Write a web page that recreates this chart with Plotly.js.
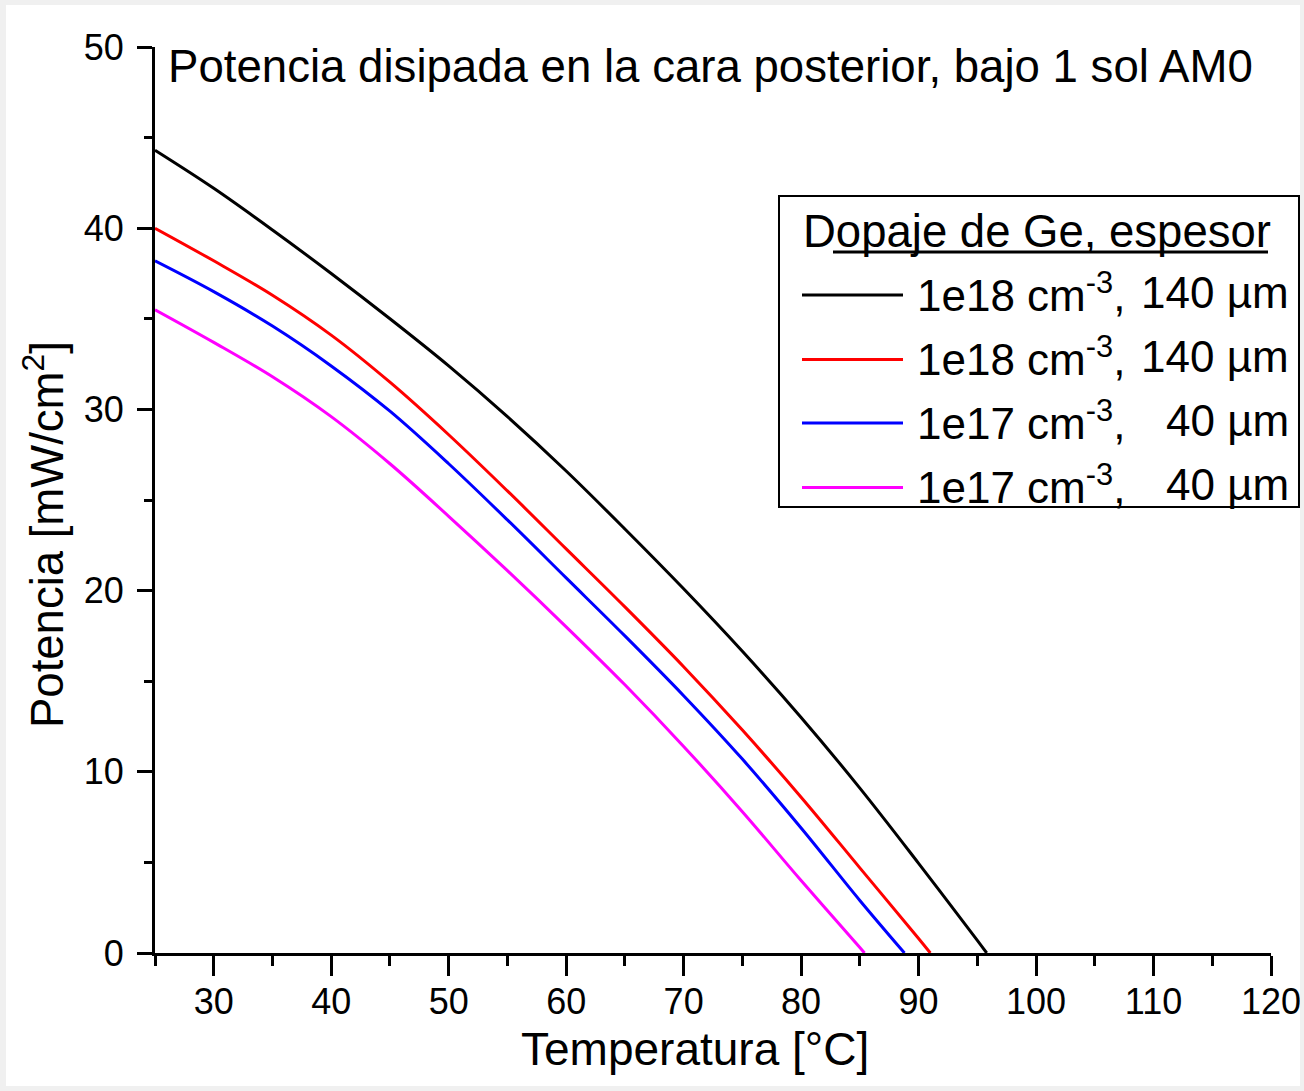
<!DOCTYPE html>
<html>
<head>
<meta charset="utf-8">
<script src="https://cdn.plot.ly/plotly-3.0.1.min.js"></script>
<style>
  html, body { margin: 0; padding: 0; background: #f0f0f0; }
  #chart { position: absolute; left: 6px; top: 5px; width: 1294px; height: 1081px; background: #ffffff; }
</style>
</head>
<body>
<div id="chart"></div>
<script>
// ---- Data ----
const seriesNames = [
  "1e18 cm-3, 140 µm (a)",
  "1e18 cm-3, 140 µm (b)",
  "1e17 cm-3, 40 µm (a)",
  "1e17 cm-3, 40 µm (b)"
];
const seriesColors = ["#000000", "#ff0000", "#0000ff", "#ff00ff"];

const tempBlack = [25, 30, 35, 40, 45, 50, 55, 60, 65, 70, 75, 80, 85, 90, 95, 95.8];
const powBlack  = [44.3, 42.2, 39.9, 37.5, 35.0, 32.4, 29.6, 26.6, 23.4, 20.1, 16.65, 13.0, 9.1, 4.95, 0.7, 0];

const tempRed = [25, 30, 35, 40, 45, 50, 55, 60, 65, 70, 75, 80, 85, 90, 91];
const powRed  = [40.0, 38.2, 36.3, 34.1, 31.5, 28.6, 25.5, 22.3, 19.1, 15.8, 12.3, 8.6, 4.7, 0.8, 0];

const tempBlue = [25, 30, 35, 40, 45, 50, 55, 60, 65, 70, 75, 80, 85, 88.8];
const powBlue  = [38.2, 36.5, 34.6, 32.4, 29.9, 27.0, 23.9, 20.7, 17.5, 14.2, 10.7, 6.9, 2.9, 0];

const tempMagenta = [25, 30, 35, 40, 45, 50, 55, 60, 65, 70, 75, 80, 85, 85.4];
const powMagenta  = [35.5, 33.7, 31.8, 29.6, 27.0, 24.1, 21.1, 18.0, 14.8, 11.4, 7.8, 4.0, 0.3, 0];

const chartTitle = "Potencia disipada en la cara posterior, bajo 1 sol AM0";
const xTitle = "Temperatura [°C]";
const yTitle = "Potencia [mW/cm<sup>2</sup>]";
const legendTitle = "Dopaje de Ge, espesor";
const legendLeftText = ["1e18 cm<sup>-3</sup>,", "1e18 cm<sup>-3</sup>,", "1e17 cm<sup>-3</sup>,", "1e17 cm<sup>-3</sup>,"];
const legendRightText = ["140 µm", "140 µm", "40 µm", "40 µm"];

// ---- Geometry helpers (page pixels -> paper coords) ----
const OX = 6, OY = 5;            // div offset on page
const PL = 155, PR = 1271, PT = 47, PB = 953; // plot area on page
const px = x => (x - PL) / (PR - PL);
const py = y => (PB - y) / (PB - PT);

const FONT = "Liberation Sans, Arial, sans-serif";

const xs = [tempBlack, tempRed, tempBlue, tempMagenta];
const ys = [powBlack, powRed, powBlue, powMagenta];

const traces = xs.map((x, i) => ({
  type: "scatter",
  mode: "lines",
  x: x,
  y: ys[i],
  name: seriesNames[i],
  showlegend: false,
  line: { color: seriesColors[i], width: 3, shape: "spline", smoothing: 1 },
  hoverinfo: "x+y"
}));

const shapes = [];
const annotations = [];

// Legend box
shapes.push({ type: "rect", xref: "paper", yref: "paper",
  x0: px(779), x1: px(1299), y0: py(507), y1: py(196),
  line: { color: "#000000", width: 2 }, fillcolor: "#ffffff", layer: "above" });
// Legend title underline
shapes.push({ type: "line", xref: "paper", yref: "paper",
  x0: px(833), x1: px(1268), y0: py(252), y1: py(252),
  line: { color: "#000000", width: 3 }, layer: "above" });
annotations.push({ xref: "paper", yref: "paper", x: px(801), y: py(231),
  xanchor: "left", yanchor: "middle", showarrow: false, text: legendTitle,
  font: { family: FONT, size: 45.5, color: "#000000" } });

const rowY = [295, 359.5, 423, 487.5];
rowY.forEach((ry, i) => {
  shapes.push({ type: "line", xref: "paper", yref: "paper",
    x0: px(802), x1: px(903), y0: py(ry), y1: py(ry),
    line: { color: seriesColors[i], width: 3 }, layer: "above" });
  annotations.push({ xref: "paper", yref: "paper", x: px(915), y: py(ry - 3),
    xanchor: "left", yanchor: "middle", showarrow: false, text: legendLeftText[i],
    font: { family: FONT, size: 44, color: "#000000" } });
  annotations.push({ xref: "paper", yref: "paper", x: px(1291), y: py(ry - 3),
    xanchor: "right", yanchor: "middle", showarrow: false, text: legendRightText[i],
    font: { family: FONT, size: 44, color: "#000000" } });
});

// Axis titles
annotations.push({ xref: "paper", yref: "paper", x: px(695), y: py(1049),
  xanchor: "center", yanchor: "middle", showarrow: false, text: xTitle,
  font: { family: FONT, size: 46, color: "#000000" } });
annotations.push({ xref: "paper", yref: "paper", x: px(44), y: py(535),
  xanchor: "center", yanchor: "middle", showarrow: false, text: yTitle, textangle: -90,
  font: { family: FONT, size: 45.5, color: "#000000" } });

const W = 1294, H = 1081;
const layout = {
  width: W, height: H,
  margin: { l: PL - OX, r: (OX + W) - PR, t: PT - OY, b: (OY + H) - PB, pad: 0 },
  paper_bgcolor: "#ffffff",
  plot_bgcolor: "#ffffff",
  showlegend: false,
  title: {
    text: chartTitle,
    font: { family: FONT, size: 45.6, color: "#000000" },
    xref: "paper", x: px(168), xanchor: "left",
    yref: "container", y: 1 - (66 - OY) / H, yanchor: "middle"
  },
  xaxis: {
    range: [25, 120], tick0: 0, dtick: 10,
    showgrid: false, zeroline: false,
    showline: true, linecolor: "#000000", linewidth: 3,
    ticks: "outside", ticklen: 20, tickwidth: 3, tickcolor: "#000000",
    tickfont: { family: FONT, size: 36, color: "#000000" },
    ticklabelstandoff: -5,
    ticklabeloverflow: "allow",
    minor: { ticks: "outside", ticklen: 10, tickwidth: 3, tickcolor: "#000000", tick0: 25, dtick: 10, showgrid: false }
  },
  yaxis: {
    range: [0, 50], tick0: 0, dtick: 10,
    showgrid: false, zeroline: false,
    showline: true, linecolor: "#000000", linewidth: 3,
    ticks: "outside", ticklen: 15, tickwidth: 3, tickcolor: "#000000",
    tickfont: { family: FONT, size: 36, color: "#000000" },
    ticklabelstandoff: 6,
    ticklabeloverflow: "allow",
    minor: { ticks: "outside", ticklen: 8, tickwidth: 3, tickcolor: "#000000", tick0: 5, dtick: 10, showgrid: false }
  },
  shapes: shapes,
  annotations: annotations
};

Plotly.newPlot("chart", traces, layout, { displayModeBar: false, staticPlot: true });
</script>
</body>
</html>
